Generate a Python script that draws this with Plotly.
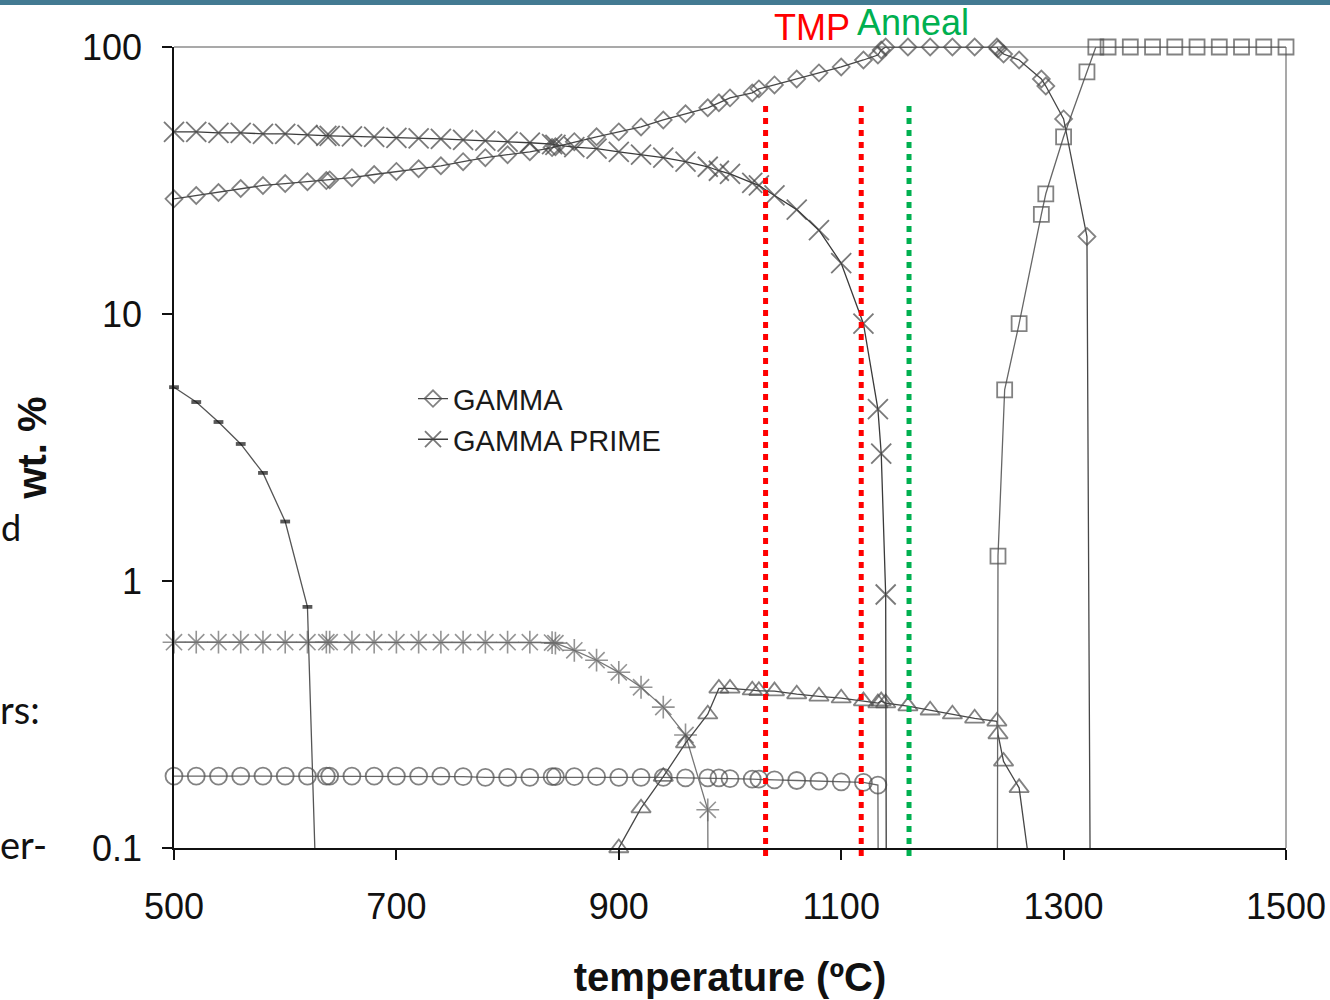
import plotly.graph_objects as go

# ---------------- data ----------------
gamma_T = [500, 520, 540, 560, 580, 600, 620, 637, 640, 660, 680, 700, 720, 740, 760, 780, 800, 820, 840, 843,
           860, 880, 900, 920, 940, 960, 980, 990, 1000, 1020, 1026, 1040, 1060, 1080, 1100, 1120, 1133, 1136,
           1140, 1160, 1180, 1200, 1220, 1240, 1241, 1246, 1260, 1280, 1284, 1300, 1321, 1325]
gamma_wt = [27.0, 27.8, 28.5, 29.5, 30.3, 30.8, 31.3, 31.6, 31.8, 32.4, 33.3, 34.2, 35.0, 35.9, 37.2, 38.5, 39.5,
            40.5, 42.0, 42.3, 44.2, 46.1, 48.1, 50.2, 53.3, 56.2, 59.2, 61.8, 64.5, 67.3, 69.7, 72.1, 75.9, 80.0,
            84.2, 89.4, 93.3, 97.5, 100, 100, 100, 100, 100, 100, 98.3, 94.1, 89.4, 75.9, 71.4, 53.8, 19.5, 0.01]

gprime_T = [500, 520, 540, 560, 580, 600, 620, 637, 640, 660, 680, 700, 720, 740, 760, 780, 800, 820, 840, 843,
            860, 880, 900, 920, 940, 960, 980, 990, 1000, 1020, 1026, 1040, 1060, 1080, 1100, 1120, 1133, 1136,
            1140, 1141]
gprime_wt = [48.1, 48.1, 47.7, 47.7, 47.3, 47.3, 46.9, 46.5, 46.5, 46.3, 46.1, 45.7, 45.5, 45.3, 44.9, 44.6, 44.2,
             43.8, 43.3, 43.0, 42.2, 41.6, 40.5, 39.5, 38.5, 37.2, 35.6, 34.4, 33.5, 31.0, 30.3, 27.8, 24.6, 20.6,
             15.5, 9.2, 4.4, 3.0, 0.89, 0.01]

dash_T = [500, 520, 540, 560, 580, 600, 620, 634]
dash_wt = [5.32, 4.68, 3.94, 3.26, 2.54, 1.67, 0.80, 0.01]

aster_T = [500, 520, 540, 560, 580, 600, 620, 637, 640, 660, 680, 700, 720, 740, 760, 780, 800, 820, 840, 843,
           860, 880, 900, 920, 940, 960, 980, 981]
aster_wt = [0.59, 0.59, 0.59, 0.59, 0.59, 0.59, 0.59, 0.59, 0.59, 0.59, 0.59, 0.59, 0.59, 0.59, 0.59, 0.59, 0.59,
            0.59, 0.588, 0.585, 0.55, 0.505, 0.455, 0.40, 0.337, 0.265, 0.139, 0.01]

circ_T = [500, 520, 540, 560, 580, 600, 620, 637, 640, 660, 680, 700, 720, 740, 760, 780, 800, 820, 840, 843,
          860, 880, 900, 920, 940, 960, 980, 990, 1000, 1020, 1026, 1040, 1060, 1080, 1100, 1120, 1133, 1134]
circ_wt = [0.186, 0.186, 0.186, 0.186, 0.186, 0.186, 0.186, 0.186, 0.186, 0.186, 0.186, 0.186, 0.186, 0.186,
           0.185, 0.184, 0.184, 0.184, 0.185, 0.185, 0.185, 0.185, 0.184, 0.184, 0.184, 0.183, 0.183, 0.183,
           0.182, 0.181, 0.181, 0.180, 0.179, 0.178, 0.177, 0.176, 0.172, 0.01]

tri_T = [899, 900, 920, 940, 960, 980, 990, 1000, 1020, 1026, 1040, 1060, 1080, 1100, 1120, 1133, 1136, 1140,
         1160, 1180, 1200, 1220, 1240, 1241, 1246, 1260, 1280]
tri_wt = [0.01, 0.1, 0.141, 0.185, 0.247, 0.317, 0.396, 0.396, 0.390, 0.388, 0.387, 0.377, 0.370, 0.364, 0.355,
          0.349, 0.355, 0.349, 0.340, 0.328, 0.317, 0.306, 0.298, 0.267, 0.211, 0.168, 0.04]

sq_T = [1240, 1241, 1247, 1260, 1280, 1284, 1300, 1321, 1329, 1340, 1360, 1380, 1400, 1420, 1440, 1460, 1480, 1500]
sq_wt = [0.01, 1.24, 5.2, 9.2, 23.6, 28.2, 46.1, 80.7, 100, 100, 100, 100, 100, 100, 100, 100, 100, 100]

x_ticks = [500, 700, 900, 1100, 1300, 1500]
y_ticks = [0.1, 1, 10, 100]
y_ticktext = ["0.1", "1", "10", "100"]

process_T = [1032, 1118, 1161]
process_colors = ["#FF0000", "#FF0000", "#00B050"]

# ---------------- figure ----------------
LINE = "#474747"
MK = "#4d4d4d"


def sizes(vals, s):
    # hide markers of the "zero" points that fall below the axis
    return [0 if v < 0.095 else s for v in vals]


fig = go.Figure()


def add(T, v, name, symbol, size, mcolor=MK, mwidth=1.8, lcolor=LINE, lwidth=1.3, legend=False):
    fig.add_trace(go.Scatter(
        x=T, y=v, name=name, mode="lines+markers", showlegend=legend,
        line=dict(color=lcolor, width=lwidth),
        marker=dict(symbol=symbol, size=sizes(v, size), color=mcolor,
                    line=dict(color=mcolor, width=mwidth)),
        cliponaxis=False,
    ))


add(circ_T, circ_wt, "circles", "circle-open", 17, lcolor="#666666")
add(aster_T, aster_wt, "asterisk", "asterisk-open", 19, mcolor="#666666", mwidth=1.6, lcolor="#777777")
add(tri_T, tri_wt, "triangles", "triangle-up-open", 17)
add(dash_T, dash_wt, "dash", "line-ew-open", 7, mcolor="#111111", mwidth=3.8, lcolor="#555555")
add(sq_T, sq_wt, "squares", "square-open", 15, lcolor="#666666")
add(gamma_T, gamma_wt, "GAMMA", "diamond-open", 13, legend=True)
add(gprime_T, gprime_wt, "GAMMA PRIME", "x-thin-open", 20, mcolor="#404040", lcolor="#3a3a3a", legend=True)

# Reference layout (pixels of the 1330x1000 picture): plot area x 173..1285, y 47..850.
# The capture comes out ~0.6% smaller than the page, so the page is laid out slightly larger.
REF_W, REF_H = 1330, 1000
W, H = 1338, 1004
SX, SY = W / REF_W, H / REF_H
L, R, T_, B = 173, 1285, 47, 850


def px(xp):
    return (xp - L) / (R - L)


def py(yp):
    return (B - yp) / (B - T_)


shapes = []
# teal bar at the very top of the slide
shapes.append(dict(type="rect", xref="paper", yref="paper", x0=px(-5), x1=px(REF_W + 10), y0=py(5), y1=py(-8),
                   fillcolor="#437A92", line=dict(width=0), layer="above"))
# gray top/right frame of the plot area
shapes.append(dict(type="line", xref="paper", yref="paper", x0=0, x1=1, y0=1, y1=1,
                   line=dict(color="#8c8c8c", width=1.5), layer="below"))
shapes.append(dict(type="line", xref="paper", yref="paper", x0=1, x1=1, y0=0, y1=1,
                   line=dict(color="#8c8c8c", width=1.5), layer="below"))
# process temperatures (dotted verticals)
for t, c in zip(process_T, process_colors):
    shapes.append(dict(type="line", xref="x", yref="paper", x0=t, x1=t, y0=py(858), y1=py(105),
                       line=dict(color=c, width=5, dash="6px,6px"), layer="above"))

annotations = [
    dict(text="TMP", x=px(811), y=py(27), xref="paper", yref="paper", showarrow=False,
         font=dict(family="Liberation Sans, Arial", size=36, color="#FF0000"), xanchor="center", yanchor="middle"),
    dict(text="Anneal", x=px(912), y=py(22), xref="paper", yref="paper", showarrow=False,
         font=dict(family="Liberation Sans, Arial", size=36, color="#00B050"), xanchor="center", yanchor="middle"),
    dict(text="d", x=px(-2), y=py(528), xref="paper", yref="paper", showarrow=False,
         font=dict(family="Lato, Noto Sans", size=36, color="#111111"), xanchor="left", yanchor="middle"),
    dict(text="rs:", x=px(-3), y=py(711), xref="paper", yref="paper", showarrow=False,
         font=dict(family="Lato, Noto Sans", size=38, color="#111111"), xanchor="left", yanchor="middle"),
    dict(text="er-", x=px(-3), y=py(846), xref="paper", yref="paper", showarrow=False,
         font=dict(family="Lato, Noto Sans", size=38, color="#111111"), xanchor="left", yanchor="middle"),
]

fig.update_layout(
    width=W, height=H,
    margin=dict(l=L * SX, r=W - R * SX, t=T_ * SY, b=H - B * SY, pad=0),
    paper_bgcolor="white", plot_bgcolor="rgba(0,0,0,0)",
    font=dict(family="Liberation Sans, Arial", color="#111111"),
    shapes=shapes, annotations=annotations,
    legend=dict(x=px(412), y=py(374), xanchor="left", yanchor="top",
                font=dict(family="Liberation Sans, Arial", size=29, color="#1a1a1a"),
                bgcolor="rgba(0,0,0,0)", itemwidth=30, tracegroupgap=0),
)

fig.update_xaxes(
    range=[500, 1500], tickvals=x_ticks, ticks="outside", ticklen=10, tickwidth=2, tickcolor="#111111",
    showline=True, linecolor="#111111", linewidth=2, showgrid=False, zeroline=False,
    tickfont=dict(size=36, color="#111111"), ticklabelstandoff=16,
    title=dict(text="<b>temperature (ºC)</b>", font=dict(size=40, color="#111111"), standoff=37),
)
fig.update_yaxes(
    type="log", range=[-1, 2], tickvals=y_ticks, ticktext=y_ticktext, ticks="outside", ticklen=10,
    tickwidth=1.5, tickcolor="#111111", showline=True, linecolor="#111111", linewidth=1.5,
    showgrid=False, zeroline=False, tickfont=dict(size=36, color="#111111"), ticklabelstandoff=13,
    title=dict(text="<b>wt. %</b>", font=dict(size=40, color="#111111"), standoff=23),
)

fig.write_html(
    "out.html",
    config={"displayModeBar": False, "responsive": False},
    post_script=("document.documentElement.style.margin='0';document.documentElement.style.padding='0';"
                 "document.documentElement.style.overflow='hidden';"
                 "document.body.style.margin='0';document.body.style.padding='0';"
                 "document.body.style.overflow='hidden';"),
)
